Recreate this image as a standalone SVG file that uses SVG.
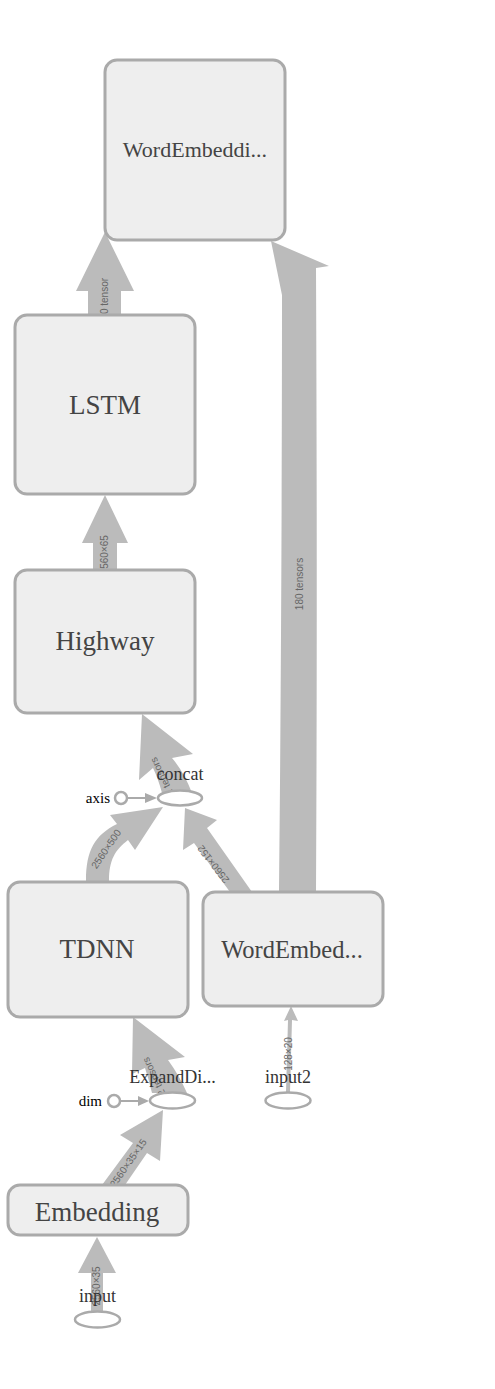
<svg xmlns="http://www.w3.org/2000/svg" width="495" height="1389" viewBox="0 0 495 1389">
<style>
.node rect{fill:#eeeeee;stroke:#aaaaaa;stroke-width:3}
.nl{font-family:"Liberation Serif",serif;fill:#444;text-anchor:middle}
.op{fill:#ffffff;stroke:#aaaaaa;stroke-width:2.5}
.ol{font-family:"Liberation Serif",serif;fill:#333;font-size:18px;text-anchor:middle}
.cl{font-family:"Liberation Serif",serif;fill:#000;font-size:15px;text-anchor:end}
.edge{fill:#bbbbbb;stroke:none}
.el{font-family:"Liberation Sans",sans-serif;fill:#666;font-size:10px;text-anchor:middle}
.ctl{stroke:#aaaaaa;stroke-width:2;fill:none}
.ctlh{fill:#aaaaaa}
</style>
<rect width="495" height="1389" fill="#ffffff"/>
<g id="edges">
  <path class="edge" d="M88,315 L88,291 L76,291 L105,232 L134,291 L121,291 L121,315 Z"/>
  <text class="el" transform="translate(108,296) rotate(-90)">0 tensor</text>
  <path class="edge" d="M93,570 L93,543 L82,543 L105,495 L128,543 L117,543 L117,570 Z"/>
  <text class="el" transform="translate(108,552) rotate(-90)">560×65</text>
  <path class="edge" d="M279,892 C281,700 282,480 282,295 L271,241 L329,266 L316,268 C317,480 317,700 316,892 Z"/>
  <text class="el" transform="translate(303,584) rotate(-90)">180 tensors</text>
  <path class="edge" d="M162,793 Q158,778 153,768 L139,780 L142,714 L193,754 L172,758 Q184,772 192,793 Z"/>
  <text class="el" transform="translate(165,775) rotate(-116)">2 tensors</text>
  <path class="edge" d="M86,881 C86,850 95,835 117,824 L110,815 L163,807 L135,850 L128,840 C115,850 109,860 109,881 Z"/>
  <text class="el" transform="translate(109,851) rotate(-56)">2560×500</text>
  <path class="edge" d="M230,892 L194,843 L183,850 L185,808 L217,820 L207,828 L252,892 Z"/>
  <text class="el" transform="translate(216,862) rotate(-128)">2560×152</text>
  <path class="edge" d="M152,1093 Q149,1080 145,1068 L132,1074 L133,1017 L185,1057 L168,1060 Q179,1075 187,1093 Z"/>
  <text class="el" transform="translate(157,1075) rotate(-115)">2 tensors</text>
  <path class="edge" d="M102,1185 L133,1143 L120,1135 L163,1110 L160,1161 L147,1153 L125,1185 Z"/>
  <text class="el" transform="translate(131,1165) rotate(-55)">2560×35×15</text>
  <path class="edge" d="M286,1092 L288,1020 L284,1021 L291,1006 L298,1021 L292,1020 L290,1092 Z"/>
  <text class="el" transform="translate(292,1054) rotate(-90)">128×20</text>
  <path class="edge" d="M91,1311 L91,1273 L78,1273 L97,1237 L116,1273 L103,1273 L103,1311 Z"/>
  <text class="el" transform="translate(100,1286) rotate(-90)">2560×35</text>
  <line class="ctl" x1="127" y1="798" x2="147" y2="798"/>
  <path class="ctlh" d="M145,793 L157,798 L145,803 Z"/>
  <line class="ctl" x1="120" y1="1101" x2="140" y2="1101"/>
  <path class="ctlh" d="M138,1096 L149,1101 L138,1106 Z"/>
</g>
<g id="node-wordembedding-top" class="node">
  <rect x="105" y="60" width="180" height="180" rx="12"/>
  <text class="nl" x="195" y="157" font-size="22">WordEmbeddi...</text>
</g>
<g id="node-lstm" class="node">
  <rect x="15" y="315" width="180" height="179" rx="12"/>
  <text class="nl" x="105" y="414" font-size="27">LSTM</text>
</g>
<g id="node-highway" class="node">
  <rect x="15" y="570" width="180" height="143" rx="12"/>
  <text class="nl" x="105" y="650" font-size="27">Highway</text>
</g>
<g id="node-tdnn" class="node">
  <rect x="8" y="882" width="180" height="135" rx="12"/>
  <text class="nl" x="97" y="958" font-size="27">TDNN</text>
</g>
<g id="node-wordembed" class="node">
  <rect x="203" y="892" width="180" height="114" rx="12"/>
  <text class="nl" x="292" y="958" font-size="24.5">WordEmbed...</text>
</g>
<g id="node-embedding" class="node">
  <rect x="8" y="1185" width="180" height="50" rx="12"/>
  <text class="nl" x="97" y="1221" font-size="27">Embedding</text>
</g>
<g id="node-concat">
  <ellipse class="op" cx="180" cy="798" rx="22" ry="7.5"/>
  <text class="ol" x="180" y="780">concat</text>
</g>
<g id="node-axis">
  <circle class="op" cx="121" cy="798" r="6"/>
  <text class="cl" x="110" y="803">axis</text>
</g>
<g id="node-expanddims">
  <ellipse class="op" cx="172.5" cy="1100.5" rx="22.5" ry="8"/>
  <text class="ol" x="172.5" y="1083">ExpandDi...</text>
</g>
<g id="node-dim">
  <circle class="op" cx="114" cy="1101" r="6"/>
  <text class="cl" x="102" y="1106">dim</text>
</g>
<g id="node-input2">
  <ellipse class="op" cx="288" cy="1100.5" rx="22.5" ry="8"/>
  <text class="ol" x="288" y="1083">input2</text>
</g>
<g id="node-input">
  <ellipse class="op" cx="97.5" cy="1319.5" rx="22.5" ry="8"/>
  <text class="ol" x="97.5" y="1302">input</text>
</g>
</svg>
